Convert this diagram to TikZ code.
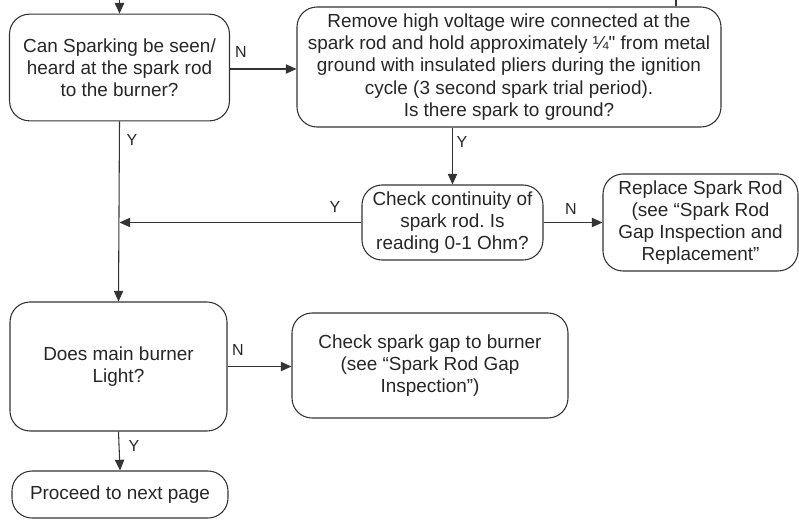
\documentclass[tikz,border=0pt]{standalone}
\usepackage{fontspec}
\setmainfont{Liberation Sans}[Ligatures=TeXOff]
\usetikzlibrary{arrows.meta}
\definecolor{linec}{gray}{0.2}
\definecolor{textc}{gray}{0.15}
\frenchspacing
\begin{document}
\begin{tikzpicture}[x=0.75pt,y=-0.75pt,
  box/.style={draw=linec, line width=0.8pt, rounded corners=15pt, align=center,
    text=textc, inner sep=0pt, font=\fontsize{14.2}{16.6}\selectfont},
  conn/.style={draw=linec, line width=0.8pt, -{Triangle[length=8pt,width=7pt]}},
  lbl/.style={text=textc, font=\fontsize{12}{13}\selectfont, inner sep=0pt}]
\useasboundingbox (0,0) rectangle (799,519);
\node[box, minimum width=165pt, minimum height=80pt] (A) at (119.5,67.5)
  {Can Sparking be seen/\\heard at the spark rod\\to the burner?};
\node[box, minimum width=318pt, minimum height=90pt] (B) at (509,67)
  {Remove high voltage wire connected at the\\spark rod and hold approximately ¼" from metal\\ground with insulated pliers during the ignition\\cycle (3 second spark trial period).\\Is there spark to ground?};
\node[box, minimum width=135.75pt, minimum height=56.25pt] (C) at (452.5,222.5)
  {Check continuity of\\spark rod. Is\\reading 0-1 Ohm?};
\node[box, minimum width=146.25pt, minimum height=72.75pt] (D) at (700.5,222.5)
  {Replace Spark Rod\\(see “Spark Rod\\Gap Inspection and\\Replacement”};
\node[box, minimum width=162.75pt, minimum height=96.75pt] (E) at (118.5,366.5)
  {Does main burner\\Light?};
\node[box, minimum width=207pt, minimum height=78.75pt] (F) at (430,365.5)
  {Check spark gap to burner\\(see “Spark Rod Gap\\Inspection”)};
\node[box, minimum width=162pt, minimum height=35.25pt] (G) at (120,494.5)
  {Proceed to next page};
\coordinate (topA) at (119.5,0);
\coordinate (topB) at (676,0);
\coordinate (J) at (119.5,222.5);
\draw[conn] (topA) -- (A.north);
\draw[draw=linec, line width=0.8pt] (topB) -- (topB |- B.north);
\draw[conn] (A.east |- 0,69) -- (B.west |- 0,69);
\draw[conn] (B.south -| 452.5,0) -- (C.north);
\draw[conn] (C.east) -- (D.west);
\draw[conn] (C.west) -- (J);
\draw[conn] (A.south) -- (E.north);
\draw[conn] (E.east) -- (F.west |- E.east);
\draw[conn] (E.south) -- (G.north);
\node[lbl] (n1) at (241,52) {N};
\node[lbl] (y1) at (132,140) {Y};
\node[lbl] (y2) at (462,142) {Y};
\node[lbl] (y3) at (335,207) {Y};
\node[lbl] (n2) at (571,209) {N};
\node[lbl] (n3) at (238,350) {N};
\node[lbl] (y4) at (134,446) {Y};
\end{tikzpicture}
\end{document}
